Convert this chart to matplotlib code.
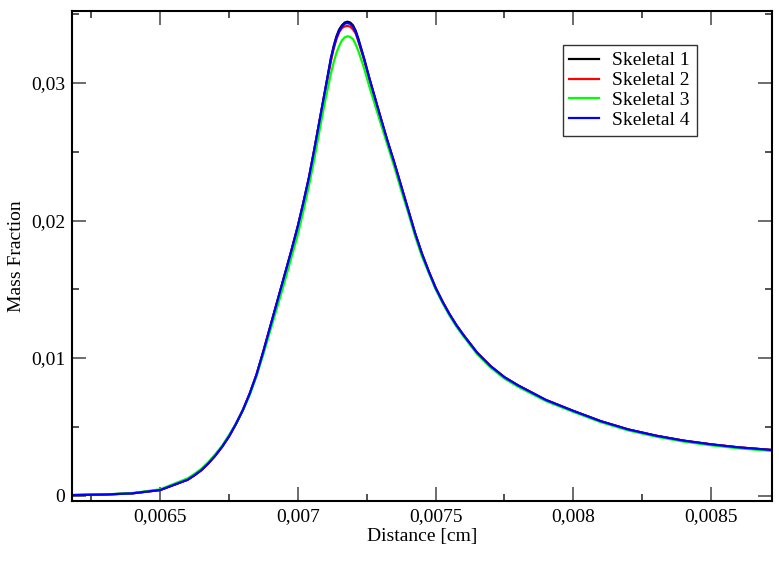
import matplotlib
matplotlib.use('Agg')
import matplotlib.pyplot as plt
from matplotlib.ticker import MultipleLocator, FuncFormatter

plt.rcParams['font.family'] = ['Liberation Serif', 'DejaVu Serif']
plt.rcParams['font.size'] = 14

# distance [cm]
distance = [0.00618, 0.00630, 0.00640, 0.00650, 0.00660, 0.006625, 0.00665, 0.006675,
            0.00670, 0.006725, 0.00675, 0.006775, 0.00680, 0.006825, 0.00685, 0.006875,
            0.00690, 0.006925, 0.00695, 0.006975, 0.00700, 0.00702, 0.00704, 0.00706,
            0.00708, 0.00710, 0.00712, 0.00713, 0.00714, 0.00715, 0.00716, 0.00717,
            0.00718, 0.00719, 0.00720, 0.00721, 0.00722,
            0.00724, 0.00726, 0.00728, 0.00730, 0.007325, 0.00735, 0.007375, 0.00740,
            0.007425, 0.00745, 0.007475, 0.00750, 0.007525, 0.00755, 0.007575, 0.00760,
            0.00765, 0.00770, 0.00775, 0.00780, 0.00790, 0.00800, 0.00810, 0.00820,
            0.00830, 0.00840, 0.00850, 0.00860, 0.00872]

skeletal_1 = [0.00003, 0.00007, 0.00016, 0.00040, 0.00115, 0.00148, 0.00185, 0.00234,
              0.0029, 0.00355, 0.0043, 0.0052, 0.0062, 0.0074, 0.0088, 0.0105,
              0.0123, 0.0141, 0.0159, 0.0177, 0.0196, 0.0213, 0.0231, 0.0252,
              0.0274, 0.0296, 0.0318, 0.0327, 0.0334, 0.0339, 0.0342, 0.03440,
              0.03446, 0.03440, 0.0342, 0.0338, 0.0332,
              0.0318, 0.0303, 0.0289, 0.0275, 0.0258, 0.0242, 0.0225, 0.0208,
              0.0191, 0.0176, 0.0163, 0.0151, 0.0141, 0.0132, 0.0124, 0.0117,
              0.0104, 0.0094, 0.0086, 0.0080, 0.00695, 0.00615, 0.00540, 0.00480,
              0.00435, 0.00399, 0.00372, 0.00350, 0.00331]

skeletal_2 = [0.00003, 0.00007, 0.00016, 0.00040, 0.00115, 0.00148, 0.00185, 0.00234,
              0.0029, 0.00355, 0.0043, 0.0052, 0.0062, 0.0074, 0.0088, 0.0105,
              0.0123, 0.0141, 0.0159, 0.0177, 0.0196, 0.0213, 0.0231, 0.0252,
              0.0274, 0.0295, 0.0316, 0.0325, 0.0332, 0.0337, 0.0340, 0.03412,
              0.03415, 0.03410, 0.0339, 0.0336, 0.0330,
              0.0317, 0.0303, 0.0289, 0.0275, 0.0258, 0.0242, 0.0225, 0.0208,
              0.0191, 0.0176, 0.0163, 0.0151, 0.0141, 0.0132, 0.0124, 0.0117,
              0.0104, 0.0094, 0.0086, 0.0080, 0.00695, 0.00615, 0.00540, 0.00480,
              0.00435, 0.00399, 0.00372, 0.00350, 0.00331]

skeletal_3 = [0.00003, 0.00008, 0.00018, 0.00045, 0.00125, 0.00158, 0.00195, 0.00243,
              0.0030, 0.00362, 0.0044, 0.0052, 0.0062, 0.0073, 0.0087, 0.0103,
              0.0120, 0.0137, 0.0154, 0.0172, 0.0190, 0.0207, 0.0225, 0.0245,
              0.0267, 0.0288, 0.0307, 0.0315, 0.0322, 0.0327, 0.0331, 0.03332,
              0.0334, 0.03335, 0.0332, 0.0328, 0.0323,
              0.0311, 0.0297, 0.0284, 0.0271, 0.0255, 0.0239, 0.0222, 0.0206,
              0.0189, 0.0174, 0.0162, 0.0150, 0.0140, 0.0131, 0.0123, 0.0116,
              0.0103, 0.0093, 0.0085, 0.0079, 0.00687, 0.00608, 0.00533, 0.00473,
              0.00428, 0.00392, 0.00365, 0.00343, 0.00324]

skeletal_4 = [0.00003, 0.00007, 0.00016, 0.00040, 0.00115, 0.00148, 0.00185, 0.00234,
              0.0029, 0.00355, 0.0043, 0.0052, 0.0062, 0.0074, 0.0088, 0.0105,
              0.0123, 0.0141, 0.0159, 0.0177, 0.0196, 0.0213, 0.0231, 0.0252,
              0.0274, 0.0296, 0.0318, 0.0326, 0.0333, 0.0338, 0.0341, 0.03432,
              0.03436, 0.03430, 0.0341, 0.0337, 0.0331,
              0.0318, 0.0303, 0.0289, 0.0275, 0.0258, 0.0242, 0.0225, 0.0208,
              0.0191, 0.0176, 0.0163, 0.0151, 0.0141, 0.0132, 0.0124, 0.0117,
              0.0104, 0.0094, 0.0086, 0.0080, 0.00695, 0.00615, 0.00540, 0.00480,
              0.00435, 0.00399, 0.00372, 0.00350, 0.00331]

series = [
    ("Skeletal 1", skeletal_1, "#000000"),
    ("Skeletal 2", skeletal_2, "#ff0000"),
    ("Skeletal 3", skeletal_3, "#00ff00"),
    ("Skeletal 4", skeletal_4, "#0000ff"),
]


def comma_fmt(v, pos):
    s = f"{round(v, 7):g}"
    if s == "-0":
        s = "0"
    return s.replace(".", ",")


fig = plt.figure(figsize=(7.79, 5.63), dpi=100)
ax = fig.add_axes([0.0924, 0.1101, 0.8986, 0.8704])

for label, vals, color in series:
    ax.plot(distance, vals, color=color, lw=1.6, label=label,
            solid_joinstyle='round')

ax.set_xlim(0.00618, 0.008721)
ax.set_ylim(-0.0004, 0.03524)

ax.xaxis.set_major_locator(MultipleLocator(0.0005))
ax.xaxis.set_minor_locator(MultipleLocator(0.00025))
ax.yaxis.set_major_locator(MultipleLocator(0.01))
ax.yaxis.set_minor_locator(MultipleLocator(0.005))
ax.xaxis.set_major_formatter(FuncFormatter(comma_fmt))
ax.yaxis.set_major_formatter(FuncFormatter(comma_fmt))

ax.tick_params(which='both', direction='in', top=True, right=True, labelsize=14)
ax.tick_params(which='major', length=10, width=1.1, color='#444444', pad=5)
ax.tick_params(which='minor', length=5, width=1.1, color='#222222')
for sp in ax.spines.values():
    sp.set_linewidth(1.5)

ax.set_xlabel("Distance [cm]", fontsize=14, labelpad=2)
ax.set_ylabel("Mass Fraction", fontsize=14, labelpad=4)

leg = ax.legend(loc='upper left', bbox_to_anchor=(0.701, 0.9306), fontsize=14,
                frameon=True, fancybox=False, framealpha=1, edgecolor='#333333',
                borderpad=0.35, labelspacing=0.12, handlelength=1.5,
                handletextpad=0.7, borderaxespad=0)
leg.get_frame().set_linewidth(1.0)

fig.savefig("out.png", dpi=100)
